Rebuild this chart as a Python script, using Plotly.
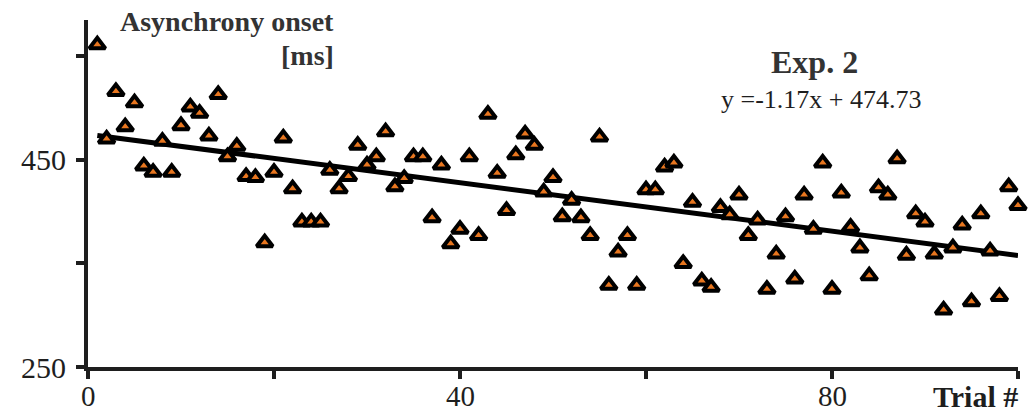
import plotly.graph_objects as go

# Trial-by-trial asynchrony onset (ms), Experiment 2
trials = list(range(1, 101))
onset_ms = [
    561, 470, 516, 482, 505, 444, 438, 468, 438, 483,
    501, 495, 473, 513, 453, 463, 434, 433, 370, 438,
    471, 422, 390, 390, 390, 440, 422, 434, 464, 445,
    453, 477, 424, 432, 453, 453, 394, 445, 369, 383,
    453, 377, 494, 437, 401, 455, 475, 464, 419, 433,
    395, 411, 394, 377, 472, 329, 361, 377, 329, 421,
    421, 443, 447, 350, 409, 333, 327, 404, 397, 416,
    377, 392, 325, 359, 395, 335, 416, 383, 447, 325,
    418, 385, 365, 338, 423, 416, 451, 358, 398, 390,
    359, 305, 365, 387, 313, 398, 362, 318, 424, 406,
]

# Linear fit reported for the series
slope = -1.17
intercept = 474.73
fit_x = [trials[0], trials[-1]]
fit_y = [slope * x + intercept for x in fit_x]

x_ticks = [0, 20, 40, 60, 80, 100]
x_ticktext = ["0", "", "40", "", "80", ""]
y_ticks = [250, 350, 450, 550]
y_ticktext = ["250", "", "450", ""]

SERIF = "Liberation Serif, Times New Roman, Times, serif"
INK = "#1e1e1e"
GREY_INK = "#333333"

fig = go.Figure()

fig.add_trace(go.Scatter(
    x=fit_x, y=fit_y, mode="lines",
    line=dict(color="#000000", width=5),
    hoverinfo="skip", showlegend=False,
))

fig.add_trace(go.Scatter(
    x=trials, y=onset_ms, mode="markers",
    marker=dict(symbol="triangle-up", size=14, color="#E8761F",
                line=dict(color="#000000", width=4)),
    cliponaxis=False, showlegend=False,
))

axis_common = dict(
    showgrid=False, zeroline=False, automargin=False,
    showline=True, linecolor=INK, linewidth=4,
    tickmode="array",
    ticks="outside", ticklen=8, tickwidth=4, tickcolor=INK,
    tickfont=dict(family=SERIF, size=30, color=INK),
)

fig.update_layout(
    width=1034, height=413,
    margin=dict(l=88, r=16, t=20, b=46, autoexpand=False),
    paper_bgcolor="white", plot_bgcolor="white",
    font=dict(family=SERIF, color=INK),
    # x tick labels sit tight under the axis, so they are placed as annotations below
    xaxis=dict(range=[0, 100], tickvals=x_ticks, showticklabels=False, **axis_common),
    yaxis=dict(range=[250, 585], tickvals=y_ticks, ticktext=y_ticktext,
               ticklabelstandoff=4, **axis_common),
)

for xv, label in zip(x_ticks, x_ticktext):
    if label:
        fig.add_annotation(x=xv, xref="x", y=-0.084, yref="paper",
                           text=label, showarrow=False,
                           xanchor="center", yanchor="middle",
                           font=dict(family=SERIF, size=29, color=INK))

annotations = [
    dict(text="<b>Asynchrony onset</b>", x=0.2667, y=0.997,
         xanchor="right", yanchor="middle", size=28, color=GREY_INK),
    dict(text="<b>[ms]</b>", x=0.2667, y=0.899,
         xanchor="right", yanchor="middle", size=28, color=GREY_INK),
    dict(text="<b>Exp. 2</b>", x=0.781, y=0.879,
         xanchor="center", yanchor="middle", size=32, color=GREY_INK),
    dict(text="y =-1.17x + 474.73", x=0.788, y=0.772,
         xanchor="center", yanchor="middle", size=26, color=INK),
    dict(text="<b>Trial #</b>", x=1.002, y=-0.086,
         xanchor="right", yanchor="middle", size=30, color=INK),
]
for a in annotations:
    size = a.pop("size")
    color = a.pop("color")
    fig.add_annotation(xref="paper", yref="paper", showarrow=False,
                       font=dict(family=SERIF, size=size, color=color), **a)

fig.write_html("out.html")
